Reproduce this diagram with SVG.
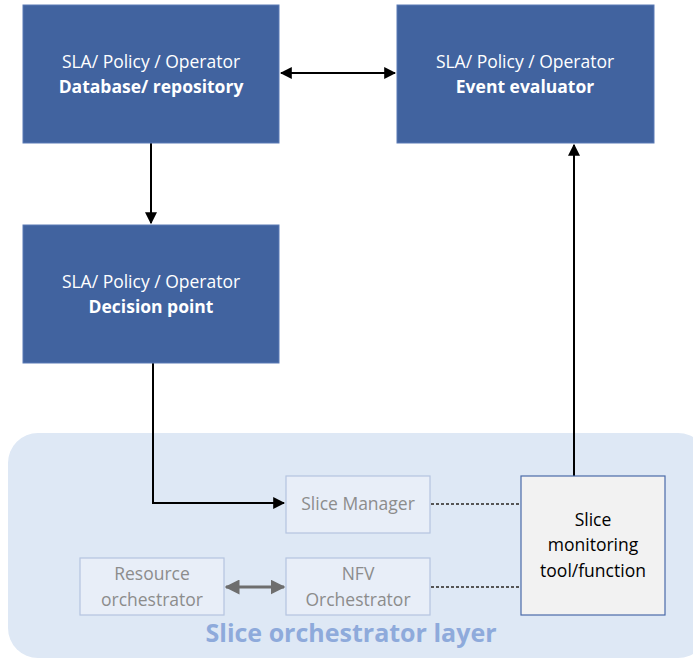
<svg xmlns="http://www.w3.org/2000/svg" width="693" height="661" viewBox="0 0 693 661">
  <defs>
    <style>
      .blk { fill: #41639f; stroke: #5b7bb6; stroke-width: 1; }
      .t { font-family: "Open Sans", "Liberation Sans", sans-serif; font-size: 17.5px; text-anchor: middle; }
      .tw { fill: #ffffff; }
      .b { font-weight: bold; }
      .sub { fill: #e8eef8; stroke: #b4c4e0; stroke-width: 1.2; }
      .tg { fill: #8c8c8c; }
      .con { fill: none; stroke: #000000; stroke-width: 2; }
      .dot { fill: none; stroke: #555555; stroke-width: 2; stroke-dasharray: 3 2; }
    </style>
    <marker id="ah" viewBox="0 0 10 10" refX="9" refY="5" markerWidth="6" markerHeight="6" orient="auto-start-reverse">
      <path d="M0,0 L10,5 L0,10 z" fill="#000000"/>
    </marker>
    <marker id="ahg" viewBox="0 0 10 10" refX="9" refY="5" markerWidth="5" markerHeight="5" orient="auto-start-reverse">
      <path d="M0,0 L10,5 L0,10 z" fill="#6e6e6e"/>
    </marker>
  </defs>

  <rect width="693" height="661" fill="#ffffff"/>

  <!-- orchestrator layer background -->
  <g id="layer">
    <rect x="8" y="433" width="700" height="225" rx="30" fill="#dee8f5"/>
    <text x="351" y="642" font-family="'Open Sans', 'Liberation Sans', sans-serif" font-size="25" font-weight="bold" fill="#8eaadb" text-anchor="middle">Slice orchestrator layer</text>
  </g>

  <!-- connectors -->
  <g id="connectors">
    <line class="con" x1="281" y1="73" x2="395" y2="73" marker-start="url(#ah)" marker-end="url(#ah)"/>
    <line class="con" x1="151" y1="143" x2="151" y2="223" marker-end="url(#ah)"/>
    <polyline class="con" points="153,363 153,503 284,503" marker-end="url(#ah)"/>
    <line class="con" x1="574" y1="476" x2="574" y2="145" marker-end="url(#ah)"/>
    <line x1="226" y1="587" x2="284" y2="587" stroke="#6e6e6e" stroke-width="3" marker-start="url(#ahg)" marker-end="url(#ahg)"/>
    <line class="dot" x1="431" y1="504" x2="521" y2="504"/>
    <line class="dot" x1="431" y1="587" x2="521" y2="587"/>
  </g>

  <g id="database">
    <rect class="blk" x="23" y="5" width="256" height="138"/>
    <text class="t tw" x="151" y="68">SLA/ Policy / Operator</text>
    <text class="t tw b" x="151" y="93">Database/ repository</text>
  </g>

  <g id="evaluator">
    <rect class="blk" x="397" y="5" width="257" height="138"/>
    <text class="t tw" x="525" y="68">SLA/ Policy / Operator</text>
    <text class="t tw b" x="525" y="93">Event evaluator</text>
  </g>

  <g id="decision">
    <rect class="blk" x="23" y="225" width="256" height="138"/>
    <text class="t tw" x="151" y="288">SLA/ Policy / Operator</text>
    <text class="t tw b" x="151" y="313">Decision point</text>
  </g>

  <g id="slice-manager">
    <rect class="sub" x="286" y="476" width="144" height="57"/>
    <text class="t tg" x="358" y="510">Slice Manager</text>
  </g>

  <g id="resource-orchestrator">
    <rect class="sub" x="80" y="558" width="144" height="57"/>
    <text class="t tg" x="152" y="580">Resource</text>
    <text class="t tg" x="152" y="606">orchestrator</text>
  </g>

  <g id="nfv-orchestrator">
    <rect class="sub" x="286" y="558" width="144" height="57"/>
    <text class="t tg" x="358" y="580">NFV</text>
    <text class="t tg" x="358" y="606">Orchestrator</text>
  </g>

  <g id="monitoring">
    <rect x="521" y="476" width="144" height="139" fill="#f2f2f2" stroke="#4a6aa8" stroke-width="1.2"/>
    <text class="t" x="593" y="526" fill="#000000">Slice</text>
    <text class="t" x="593" y="551" fill="#000000">monitoring</text>
    <text class="t" x="593" y="577" fill="#000000">tool/function</text>
  </g>
</svg>
